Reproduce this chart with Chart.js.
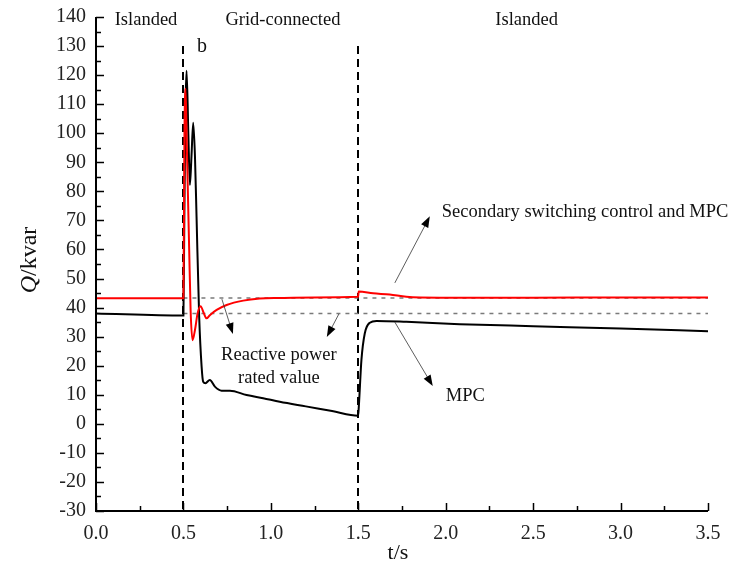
<!DOCTYPE html>
<html>
<head>
<meta charset="utf-8">
<script src="https://cdn.jsdelivr.net/npm/chart.js@4.4.1/dist/chart.umd.min.js"></script>
<style>
  body { margin: 0; background: #fff; }
  canvas { display: block; }
</style>
</head>
<body>
<canvas id="myChart" width="732" height="569"></canvas>
<script>
// MPC curve (black)
const tMpc = [0, 0.5, 0.505, 0.512, 0.518, 0.528, 0.537, 0.546, 0.556, 0.566, 0.575, 0.59, 0.604, 0.613, 0.626, 0.651, 0.68, 0.718, 0.766, 0.861, 0.956, 1.051, 1.2, 1.35, 1.499,
              1.503, 1.518, 1.537, 1.566, 1.604, 1.775, 2.08, 2.5, 3.0, 3.5]
const qMpc = [38, 37.3, 70, 110, 121.5, 100, 82.2, 92, 103.6, 92, 71.3, 36.9, 19.7, 14.5, 14, 15.1, 12.8, 11.4, 11.4, 9.9, 8.8, 7.6, 6.0, 4.4, 2.8,
              5.9, 22, 31.1, 34.8, 35.4, 35.1, 34.3, 33.6, 32.8, 31.9]

// Secondary switching control and MPC (red)
const tSec = [0, 0.5, 0.506, 0.512, 0.52, 0.533, 0.541, 0.552, 0.566, 0.581, 0.598, 0.617, 0.632, 0.651, 0.69, 0.747, 0.842, 0.937, 1.05, 1.25, 1.499,
              1.502, 1.585, 1.68, 1.775, 1.966, 2.5, 3.0, 3.5]
const qSec = [43.2, 43.2, 100, 115.4, 94.2, 59.8, 39.2, 28.8, 32.3, 38, 40.5, 38, 36.3, 37.4, 39.2, 40.9, 42.4, 43.1, 43.3, 43.5, 43.7,
              45.5, 44.9, 44.5, 43.7, 43.4, 43.4, 43.5, 43.5]

// reactive power rated values (dotted)
const ratedQ = [43.3, 38.0]
const ratedT = [0.5, 3.5]

// mode switching instants
const switchT = [0.5, 1.5]

const xTicks = [0, 0.5, 1, 1.5, 2, 2.5, 3, 3.5]
const yTicks = [-30, -20, -10, 0, 10, 20, 30, 40, 50, 60, 70, 80, 90, 100, 110, 120, 130, 140]

const serif = "'Liberation Serif', 'Times New Roman', serif"

const toPts = (ts, qs) => ts.map((t, i) => ({ x: t, y: qs[i] }))

const datasets = [
  {
    label: 'Secondary switching control and MPC',
    data: toPts(tSec, qSec),
    borderColor: '#ff0000',
    borderWidth: 2,
    cubicInterpolationMode: 'monotone',
    order: 0
  },
  {
    label: 'MPC',
    data: toPts(tMpc, qMpc),
    borderColor: '#000',
    borderWidth: 2,
    cubicInterpolationMode: 'monotone',
    order: 1
  }
]
ratedQ.forEach(q => {
  datasets.push({
    label: 'rated',
    data: ratedT.map(t => ({ x: t, y: q })),
    borderColor: '#7a7a7a',
    borderWidth: 1.5,
    borderDash: [4, 5],
    order: 2
  })
})

// text and arrows, placed in data units
const labels = [
  { text: 'Islanded', x: 0.286, y: 139, align: 'center' },
  { text: 'Grid-connected', x: 1.069, y: 139, align: 'center' },
  { text: 'Islanded', x: 2.463, y: 139, align: 'center' },
  { text: 'b', x: 0.606, y: 129.7, align: 'center', size: 20 },
  { text: 'Secondary switching control and MPC', x: 1.977, y: 72.9, align: 'left' },
  { text: 'Reactive power', x: 1.046, y: 23.5, align: 'center' },
  { text: 'rated value', x: 1.046, y: 15.8, align: 'center' },
  { text: 'MPC', x: 2.0, y: 9.4, align: 'left' }
]
const arrows = [
  [1.709, 48.5, 1.909, 71.4],
  [1.709, 35.0, 1.926, 13.0],
  [0.72, 42.9, 0.783, 30.9],
  [1.389, 37.8, 1.32, 29.9]
]

const decor = {
  id: 'decor',
  beforeDatasetsDraw(chart) {
    const { ctx, scales: { x, y } } = chart
    ctx.save()
    ctx.strokeStyle = '#000'
    ctx.lineWidth = 2
    ctx.setLineDash([8, 5])
    switchT.forEach(t => {
      const px = Math.round(x.getPixelForValue(t))
      ctx.beginPath()
      ctx.moveTo(px, y.getPixelForValue(130))
      ctx.lineTo(px, y.getPixelForValue(-30))
      ctx.stroke()
    })
    ctx.restore()
  },
  afterDraw(chart) {
    const { ctx, chartArea: a, scales: { x, y } } = chart
    ctx.save()
    // axes with inward ticks
    ctx.strokeStyle = '#000'
    ctx.lineWidth = 2
    ctx.beginPath()
    ctx.moveTo(a.left, a.top)
    ctx.lineTo(a.left, a.bottom)
    ctx.lineTo(a.right, a.bottom)
    ctx.stroke()
    ctx.lineWidth = 1.5
    ctx.beginPath()
    for (let v = -30; v <= 140; v += 5) {
      const py = Math.round(y.getPixelForValue(v)) + 0.5
      const len = v % 10 === 0 ? 8 : 5
      ctx.moveTo(a.left, py)
      ctx.lineTo(a.left + len, py)
    }
    for (let i = 0; i <= 14; i++) {
      const v = i * 0.25
      const px = Math.round(x.getPixelForValue(v)) + 0.5
      const len = i % 2 === 0 ? 8 : 5
      ctx.moveTo(px, a.bottom)
      ctx.lineTo(px, a.bottom - len)
    }
    ctx.stroke()

    // arrows
    ctx.strokeStyle = '#333'
    ctx.fillStyle = '#000'
    ctx.lineWidth = 0.8
    arrows.forEach(([x0, y0, x1, y1]) => {
      const ax = x.getPixelForValue(x0), ay = y.getPixelForValue(y0)
      const bx = x.getPixelForValue(x1), by = y.getPixelForValue(y1)
      const ang = Math.atan2(by - ay, bx - ax)
      ctx.beginPath()
      ctx.moveTo(ax, ay)
      ctx.lineTo(bx - 8 * Math.cos(ang), by - 8 * Math.sin(ang))
      ctx.stroke()
      ctx.beginPath()
      ctx.moveTo(bx, by)
      ctx.lineTo(bx - 11 * Math.cos(ang) + 4 * Math.sin(ang), by - 11 * Math.sin(ang) - 4 * Math.cos(ang))
      ctx.lineTo(bx - 11 * Math.cos(ang) - 4 * Math.sin(ang), by - 11 * Math.sin(ang) + 4 * Math.cos(ang))
      ctx.closePath()
      ctx.fill()
    })

    // annotations
    ctx.fillStyle = '#111'
    ctx.textBaseline = 'middle'
    labels.forEach(l => {
      ctx.font = (l.size || 18.5) + 'px ' + serif
      ctx.textAlign = l.align
      ctx.fillText(l.text, x.getPixelForValue(l.x), y.getPixelForValue(l.y))
    })

    // axis titles
    ctx.font = '22px ' + serif
    ctx.textAlign = 'center'
    ctx.fillText('t/s', 398, 553)
    ctx.translate(30, 260)
    ctx.rotate(-Math.PI / 2)
    ctx.font = 'italic 24px ' + serif
    const qw = ctx.measureText('Q').width
    ctx.font = '24px ' + serif
    const rw = ctx.measureText('/kvar').width
    const start = -(qw + rw) / 2
    ctx.textAlign = 'left'
    ctx.font = 'italic 24px ' + serif
    ctx.fillText('Q', start, 0)
    ctx.font = '24px ' + serif
    ctx.fillText('/kvar', start + qw, 0)
    ctx.restore()
  }
}

new Chart(document.querySelector('#myChart'), {
  type: 'line',
  data: { datasets: datasets },
  options: {
    responsive: false,
    animation: false,
    layout: { padding: { top: 17, right: 24, left: 0, bottom: 0 } },
    elements: { point: { radius: 0 } },
    plugins: { legend: { display: false }, tooltip: { enabled: false } },
    scales: {
      x: {
        type: 'linear',
        min: 0,
        max: 3.5,
        afterFit: s => { s.height = 58 },
        afterBuildTicks: s => { s.ticks = xTicks.map(v => ({ value: v })) },
        grid: { display: false },
        border: { display: false },
        ticks: {
          padding: 3,
          color: '#222',
          font: { family: serif, size: 20 },
          callback: v => v.toFixed(1)
        }
      },
      y: {
        type: 'linear',
        min: -30,
        max: 140,
        afterFit: s => { s.width = 96 },
        afterBuildTicks: s => { s.ticks = yTicks.map(v => ({ value: v })) },
        grid: { display: false },
        border: { display: false },
        ticks: {
          padding: 2,
          color: '#222',
          font: { family: serif, size: 20 }
        }
      }
    }
  },
  plugins: [decor]
})
</script>
</body>
</html>
